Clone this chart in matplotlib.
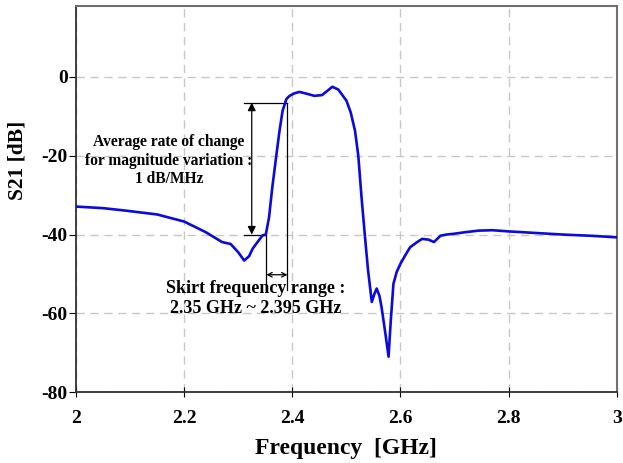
import matplotlib
matplotlib.use('Agg')
import matplotlib.pyplot as plt

plt.rcParams['font.family'] = ['Liberation Serif', 'DejaVu Serif']
plt.rcParams['font.weight'] = 'bold'
plt.rcParams['axes.unicode_minus'] = False

freq = [2.00, 2.05, 2.09, 2.15, 2.20, 2.24, 2.27, 2.286, 2.30, 2.311, 2.32, 2.327,
        2.339, 2.345, 2.351, 2.357, 2.363, 2.370, 2.376, 2.382, 2.389, 2.395, 2.403,
        2.413, 2.425, 2.441, 2.455, 2.465, 2.474, 2.485, 2.50, 2.508, 2.516, 2.522,
        2.528, 2.534, 2.540, 2.547, 2.552, 2.556, 2.561, 2.565, 2.572, 2.578, 2.582,
        2.587, 2.593, 2.600, 2.610, 2.618, 2.630, 2.640, 2.652, 2.662, 2.674, 2.685,
        2.699, 2.72, 2.745, 2.77, 2.80, 2.85, 2.90, 2.95, 3.00]
s21 = [-32.9, -33.3, -33.9, -34.9, -36.7, -39.4, -41.9, -42.4, -44.5, -46.6, -45.5, -43.5,
       -41.3, -40.2, -40.0, -35.6, -28.0, -20.4, -14.0, -8.6, -5.6, -4.8, -4.2,
       -3.8, -4.2, -4.8, -4.6, -3.5, -2.5, -3.2, -6.0, -9.0, -13.7, -20.0,
       -30.5, -40.0, -49.0, -57.1, -55.0, -53.7, -55.5, -58.4, -65.0, -71.0, -62.0,
       -52.5, -49.5, -47.4, -45.0, -43.2, -42.0, -41.1, -41.3, -41.9, -40.3, -40.0,
       -39.8, -39.4, -39.0, -38.9, -39.2, -39.6, -40.0, -40.3, -40.7]

xticks = [2, 2.2, 2.4, 2.6, 2.8, 3]
xlabels = ['2', '2.2', '2.4', '2.6', '2.8', '3']
yticks = [0, -20, -40, -60, -80]

# annotation geometry
f_arrow = 2.325
f_lo, f_hi = 2.352, 2.391
top_db, low_db = -6.5, -40.0

fig = plt.figure(figsize=(6.23, 4.63), dpi=100)
ax = fig.add_axes([0.122, 0.153, 0.868, 0.834])

ax.plot(freq, s21, color='#0a0adc', lw=1.9, zorder=3)

ax.set_xlim(2, 3)
ax.set_ylim(-80, 18)
ax.set_xticks(xticks)
ax.set_xticklabels(xlabels)
ax.set_yticks(yticks)
ax.grid(True, color='#c8c8c8', ls=(0, (6, 4)), lw=1.0)
ax.tick_params(axis='x', direction='inout', length=7, labelsize=14, pad=9)
ax.tick_params(axis='y', direction='out', length=5, labelsize=14, pad=1)
for s in ['top', 'right']:
    ax.spines[s].set_color('#707070')
    ax.spines[s].set_linewidth(1.5)
for s in ['left', 'bottom']:
    ax.spines[s].set_color('#303030')
    ax.spines[s].set_linewidth(1.3)

ax.set_xlabel('Frequency  [GHz]', fontsize=17, fontweight='bold', labelpad=8)
ax.set_ylabel('S21 [dB]', fontsize=15.5, fontweight='bold')
ax.yaxis.set_label_coords(-0.089, 0.60)

# rate of change annotation
k = dict(color='black', lw=0.9)
ax.plot([2.311, f_hi], [top_db, top_db], **k)
ax.plot([2.311, f_lo], [low_db, low_db], **k)
ax.annotate('', xy=(f_arrow, top_db), xytext=(f_arrow, low_db),
            arrowprops=dict(arrowstyle='<|-|>', color='black', lw=0.9,
                            mutation_scale=12, shrinkA=0, shrinkB=0))
ax.text(2.172, -21.3, 'Average rate of change\nfor magnitude variation :\n1 dB/MHz',
        ha='center', va='center', fontsize=11.2, fontweight='bold',
        linespacing=1.2)

# skirt range annotation
ax.plot([f_lo, f_lo], [low_db, -54], **k)
ax.plot([f_hi, f_hi], [top_db, -54], **k)
ax.annotate('', xy=(f_lo, -50.2), xytext=(f_hi, -50.2),
            arrowprops=dict(arrowstyle='<->', color='black', lw=0.9,
                            mutation_scale=8, shrinkA=0, shrinkB=0))
ax.text(2.333, -56.3, 'Skirt frequency range :\n2.35 GHz ~ 2.395 GHz',
        ha='center', va='center', fontsize=13, fontweight='bold',
        linespacing=1.2)

fig.savefig('out.png', dpi=100)
